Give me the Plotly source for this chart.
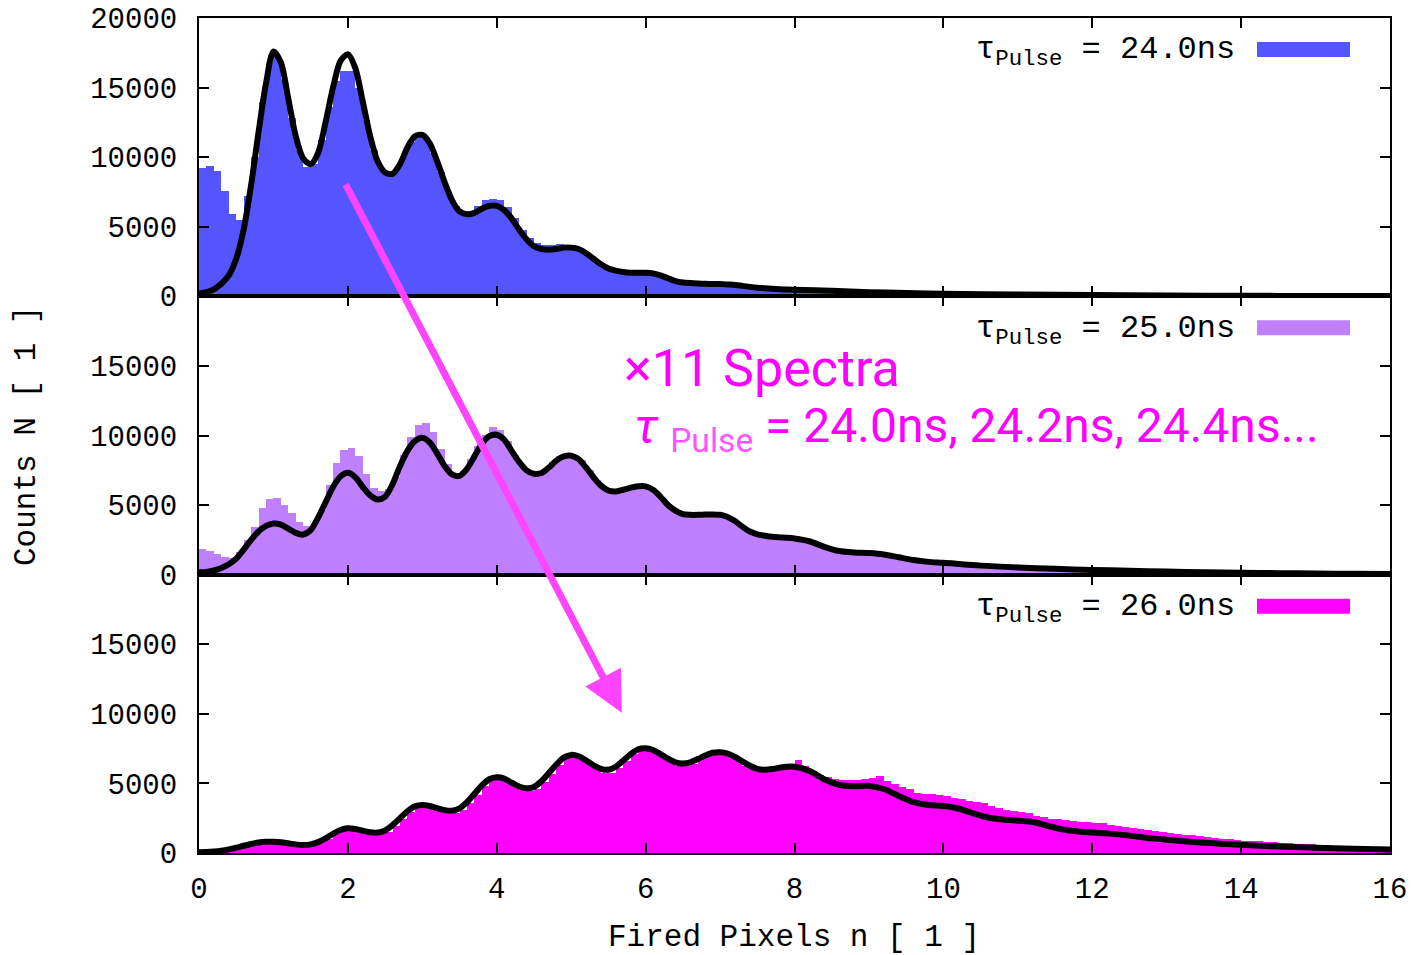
import numpy as np
import plotly.graph_objects as go
from plotly.subplots import make_subplots

# ---------------------------------------------------------------------------
# Fired-pixel spectra for three pulse lengths: histogram (0.1 wide bins) + fit
# ---------------------------------------------------------------------------
BIN_W = 0.1
bin_centers = np.round(np.arange(0.05, 16.0, BIN_W), 3)

labels = ["24.0ns", "25.0ns", "26.0ns"]
colors = ["#5555ff", "#bf80ff", "#ff00ff"]

hist_24 = [
    9200, 9400, 9000, 7600, 5900, 5500, 7200, 10000, 14000, 16800,
    17200, 15600, 12800, 10500, 9300, 9500, 11200, 13600, 15500, 16200,
    16200, 15000, 12700, 10500, 9200, 8700, 9100, 10100, 11100, 11500,
    11300, 10300, 8900, 7500, 6500, 6000, 6100, 6500, 6900, 7000,
    6900, 6400, 5600, 4800, 4200, 3800, 3700, 3700, 3750, 3700,
    3550, 3300, 2900, 2500, 2150, 1950, 1800, 1750, 1700, 1700,
    1650, 1550, 1400, 1200, 1050, 960, 920, 900, 890, 880,
    860, 830, 780, 700, 640, 590, 550, 520, 500, 480,
    460, 440, 420, 400, 380, 360, 340, 320, 300, 285,
    270, 255, 240, 230, 220, 210, 200, 190, 180, 170,
    160, 155, 150, 145, 140, 135, 130, 125, 120, 115,
    110, 106, 102, 98, 94, 90, 86, 82, 78, 75,
    72, 69, 66, 63, 60, 57, 54, 51, 48, 46,
    44, 42, 40, 38, 36, 34, 32, 30, 28, 26,
    25, 24, 23, 22, 21, 20, 19, 18, 17, 16,
    15, 14, 13, 12, 11, 10, 9, 8, 7, 6,
]
hist_25 = [
    1800, 1650, 1450, 1250, 1200, 1600, 2500, 3400, 4800, 5400,
    5450, 5000, 4400, 3750, 3500, 3550, 4600, 6400, 8000, 8900,
    9100, 8500, 7200, 6200, 5990, 6100, 7000, 8600, 9900, 10700,
    10850, 10200, 9000, 7900, 7300, 7400, 8300, 9200, 10000, 10600,
    10400, 9600, 8600, 7800, 7400, 7300, 7600, 8100, 8500, 8650,
    8600, 8200, 7500, 6800, 6300, 6050, 6050, 6200, 6350, 6400,
    6300, 5900, 5300, 4800, 4450, 4350, 4320, 4350, 4380, 4350,
    4250, 4000, 3650, 3250, 3000, 2850, 2760, 2700, 2670, 2630,
    2550, 2450, 2250, 2000, 1800, 1680, 1620, 1580, 1560, 1540,
    1500, 1420, 1320, 1200, 1100, 1000, 950, 900, 870, 850,
    820, 780, 740, 700, 670, 640, 610, 580, 560, 540,
    520, 500, 480, 460, 440, 420, 400, 385, 370, 355,
    340, 330, 315, 300, 290, 280, 270, 260, 250, 240,
    230, 220, 210, 200, 192, 184, 176, 168, 160, 153,
    146, 140, 134, 128, 122, 116, 110, 105, 100, 95,
    90, 85, 80, 76, 72, 68, 64, 60, 56, 52,
]
hist_26 = [
    40, 60, 100, 160, 250, 370, 510, 640, 730, 780,
    790, 750, 660, 580, 530, 600, 780, 1050, 1400, 1700,
    1750, 1680, 1520, 1380, 1380, 1560, 1950, 2500, 3000, 3350,
    3420, 3300, 3080, 2900, 2880, 3100, 3600, 4200, 4850, 5300,
    5380, 5200, 4850, 4550, 4450, 4650, 5100, 5700, 6350, 6850,
    6950, 6800, 6450, 6050, 5800, 5800, 6100, 6600, 7150, 7450,
    7450, 7250, 6900, 6550, 6300, 6300, 6450, 6750, 7050, 7200,
    7150, 6950, 6650, 6300, 6050, 5950, 6000, 6150, 6250, 6300,
    6700, 6250, 5950, 5600, 5450, 5350, 5300, 5300, 5300, 5350,
    5400, 5550, 5200, 4950, 4750, 4600, 4350, 4250, 4250, 4200,
    4150, 4000, 3900, 3750, 3700, 3600, 3400, 3250, 3150, 3050,
    3000, 2900, 2700, 2600, 2500, 2450, 2400, 2350, 2250, 2250,
    2200, 2150, 2050, 1950, 1900, 1800, 1750, 1700, 1600, 1500,
    1450, 1400, 1350, 1300, 1250, 1200, 1100, 1050, 1000, 950,
    920, 900, 870, 840, 800, 760, 720, 690, 660, 640,
    610, 580, 550, 530, 510, 490, 470, 450, 430, 400,
]

# Fit curves: dense samples up to n = 8, sparser in the tail
fit_core_n = [round(0.1 * i, 1) for i in range(81)]

fit_24_core = [
    200, 300, 500, 900, 1500, 2700, 4800, 8000, 11800, 15300,
    17600, 16800, 14200, 11500, 9900, 9500, 10300, 12500, 15000, 16900,
    17400, 16400, 14000, 11500, 9700, 8900, 8800, 9500, 10700, 11500,
    11600, 11000, 9700, 8200, 6900, 6100, 5900, 6000, 6300, 6500,
    6500, 6200, 5600, 4800, 4100, 3600, 3400, 3350, 3400, 3500,
    3500, 3400, 3100, 2700, 2300, 2000, 1850, 1750, 1700, 1700,
    1700, 1650, 1500, 1300, 1100, 1000, 950, 920, 900, 890,
    880, 850, 820, 750, 680, 620, 580, 540, 510, 490,
    480,
]
fit_24_tail_n = [8.5, 9, 9.5, 10, 11, 12, 13, 14, 15, 16]
fit_24_tail = [400, 300, 240, 190, 130, 90, 60, 40, 25, 15]

fit_25_core = [
    170, 200, 300, 480, 750, 1150, 1800, 2500, 3100, 3500,
    3680, 3600, 3300, 3000, 2880, 3200, 4100, 5200, 6300, 7050,
    7320, 7000, 6300, 5700, 5400, 5600, 6500, 7800, 8900, 9600,
    9830, 9500, 8700, 7800, 7200, 7100, 7600, 8500, 9400, 9950,
    10050, 9700, 8900, 8100, 7500, 7250, 7300, 7700, 8200, 8500,
    8550, 8300, 7700, 7000, 6400, 6050, 5980, 6100, 6250, 6350,
    6340, 6100, 5600, 5000, 4600, 4350, 4300, 4300, 4320, 4330,
    4300, 4150, 3850, 3450, 3100, 2900, 2800, 2720, 2680, 2650,
    2600,
]
fit_25_tail_n = [8.2, 8.4, 8.6, 8.8, 9.0, 9.2, 9.4, 9.6, 9.8, 10, 10.5,
                 11, 11.5, 12, 12.5, 13, 13.5, 14, 14.5, 15, 15.5, 16]
fit_25_tail = [2400, 2000, 1700, 1600, 1550, 1450, 1250, 1050, 920, 850, 650,
               520, 420, 340, 280, 220, 180, 140, 110, 80, 60, 45]

fit_26_core = [
    50, 70, 110, 170, 260, 380, 520, 650, 750, 800,
    815, 780, 700, 620, 580, 620, 780, 1050, 1380, 1650,
    1770, 1720, 1600, 1490, 1470, 1620, 2000, 2500, 3000, 3350,
    3450, 3380, 3220, 3080, 3040, 3200, 3650, 4250, 4850, 5300,
    5440, 5350, 5050, 4780, 4650, 4750, 5150, 5750, 6350, 6850,
    7050, 6950, 6650, 6300, 6050, 5980, 6200, 6650, 7100, 7450,
    7530, 7400, 7100, 6780, 6520, 6440, 6520, 6750, 7000, 7200,
    7240, 7150, 6900, 6580, 6270, 6050, 5980, 6030, 6130, 6200,
    6200,
]
fit_26_tail_n = [8.2, 8.4, 8.6, 8.8, 9.0, 9.2, 9.4, 9.6, 9.8, 10.0, 10.2,
                 10.4, 10.6, 10.8, 11.0, 11.2, 11.4, 11.6, 11.8, 12.0, 12.2,
                 12.5, 12.8, 13.0, 13.4, 13.8, 14.2, 14.6, 15.0, 15.5, 16.0]
fit_26_tail = [5900, 5300, 4900, 4800, 4820, 4600, 4100, 3650, 3450, 3380, 3200,
               2850, 2550, 2400, 2320, 2230, 1950, 1700, 1550, 1480, 1410,
               1250, 1050, 950, 770, 650, 530, 450, 380, 310, 250]

x_ticks = [0, 2, 4, 6, 8, 10, 12, 14, 16]
y_ticks_top = [0, 5000, 10000, 15000, 20000]
y_ticks_lower = [0, 5000, 10000, 15000]

hists = [hist_24, hist_25, hist_26]
fits = [
    (fit_core_n + fit_24_tail_n, fit_24_core + fit_24_tail),
    (fit_core_n + fit_25_tail_n, fit_25_core + fit_25_tail),
    (fit_core_n + fit_26_tail_n, fit_26_core + fit_26_tail),
]

# ---------------------------------------------------------------------------
W, H = 1414, 955
ML, MR, MT, MB = 199, 24, 18, 102
PW, PH = W - ML - MR, H - MT - MB

MONO = "Liberation Mono"

fig = make_subplots(rows=3, cols=1, shared_xaxes=True, vertical_spacing=0)

for i in range(3):
    row = i + 1
    fig.add_trace(go.Bar(x=bin_centers, y=hists[i], width=BIN_W,
                         marker=dict(color=colors[i], line=dict(width=0)),
                         hoverinfo="skip", showlegend=False), row=row, col=1)
    fx, fy = fits[i]
    fig.add_trace(go.Scatter(x=fx, y=fy, mode="lines",
                             line=dict(color="black", width=6, shape="spline", smoothing=0.8),
                             hoverinfo="skip", showlegend=False), row=row, col=1)

axis_common = dict(showline=True, linecolor="black", linewidth=2, mirror="ticks",
                   ticks="inside", ticklen=10, tickwidth=1.5, tickcolor="black",
                   showgrid=False, zeroline=False, automargin=False,
                   tickfont=dict(family=MONO, size=29, color="black"))

for i in range(3):
    row = i + 1
    yt = y_ticks_top if row == 1 else y_ticks_lower
    fig.update_xaxes(range=[0, 16], tickvals=x_ticks, ticktext=[str(v) for v in x_ticks],
                     showticklabels=(row == 3), ticklabelstandoff=8,
                     **axis_common, row=row, col=1)
    fig.update_yaxes(range=[0, 20000], tickvals=yt, ticktext=[str(v) for v in yt],
                     ticklabelstandoff=14, **axis_common, row=row, col=1)


def px_x(p):
    return (p - ML) / PW


def px_y(p):
    return (H - MB - p) / PH


annotations = []
shapes = []
panel_top_px = [MT, MT + PH / 3, MT + 2 * PH / 3]
for i in range(3):
    top = panel_top_px[i]
    # key text, right-aligned, then the coloured sample
    annotations.append(dict(
        x=px_x(1237), y=px_y(top + 34), xref="paper", yref="paper",
        xanchor="right", yanchor="middle", showarrow=False,
        text=f"τ<sub>Pulse</sub> = {labels[i]}",
        font=dict(family=MONO, size=32, color="black")))
    shapes.append(dict(type="rect", xref="paper", yref="paper",
                       x0=px_x(1257), x1=px_x(1350),
                       y0=px_y(top + 39), y1=px_y(top + 24),
                       fillcolor=colors[i], line=dict(width=0), layer="above"))

# axis titles
annotations.append(dict(x=px_x(794), y=px_y(937), xref="paper", yref="paper",
                        xanchor="center", yanchor="middle",
                        showarrow=False, text="Fired Pixels n [ 1 ]",
                        font=dict(family=MONO, size=31, color="black")))
annotations.append(dict(x=px_x(26), y=px_y(436), xref="paper", yref="paper",
                        xanchor="center", yanchor="middle",
                        showarrow=False, textangle=-90, text="Counts N [ 1 ]",
                        font=dict(family=MONO, size=31, color="black")))

# magenta note and arrow
MAG = "#ff00ff"
annotations.append(dict(x=px_x(622), y=px_y(368), xref="paper", yref="paper",
                        xanchor="left", yanchor="middle", showarrow=False,
                        text="×11 Spectra",
                        font=dict(family="Roboto", size=52, color=MAG)))
annotations.append(dict(x=px_x(632), y=px_y(428), xref="paper", yref="paper",
                        xanchor="left", yanchor="middle", showarrow=False,
                        text="<i>τ</i> <sub><span style='color:#ff55ff'>Pulse</span></sub>"
                             " = 24.0ns, 24.2ns, 24.4ns...",
                        font=dict(family="Roboto", size=48, color=MAG)))
annotations.append(dict(x=5.68, y=10070, xref="x3", yref="y3",
                        ax=-277, ay=-530, axref="pixel", ayref="pixel",
                        showarrow=True, arrowhead=2, arrowsize=1.15, arrowwidth=7,
                        arrowcolor="#ff44ff", text=""))

fig.update_layout(
    width=W, height=H,
    margin=dict(l=ML, r=MR, t=MT, b=MB, autoexpand=False),
    paper_bgcolor="white", plot_bgcolor="white",
    bargap=0, barmode="overlay",
    annotations=annotations, shapes=shapes,
    showlegend=False,
)

fig.write_html("out.html")
